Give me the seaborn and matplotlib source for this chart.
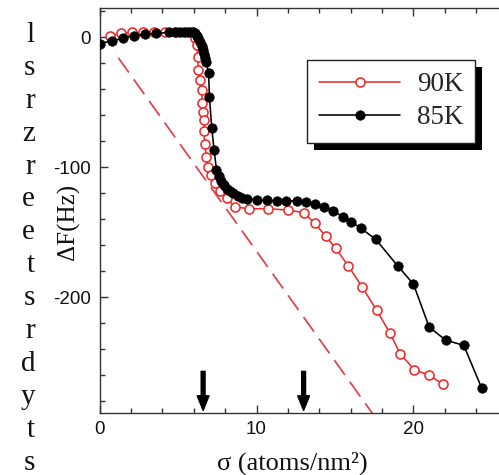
import numpy as np
import pandas as pd
import matplotlib
matplotlib.use("Agg")
import matplotlib.pyplot as plt
import seaborn as sns
from matplotlib.patches import Rectangle
from matplotlib.transforms import IdentityTransform
from matplotlib.ticker import MultipleLocator

# ---------------- data ----------------
x_90K = [0.7, 1.4, 2.1, 2.8, 3.5, 4.2, 4.9, 5.5, 5.9, 6.1, 6.2, 6.25, 6.3, 6.4, 6.5,
         6.55, 6.6, 6.65, 6.65, 6.7, 6.8, 6.9, 7.1, 7.35, 7.7, 8.1, 8.6, 9.5, 10.75,
         12.0, 13.0, 13.7, 14.4, 15.05, 15.85, 16.75, 17.65, 18.5, 19.15, 20.05, 21.0, 21.9]
y_90K = [1, 3, 3.5, 3.5, 4, 4, 4, 4, 3.5, -1, -6, -15, -25, -33, -41,
         -51, -58, -64, -72, -82, -92, -100, -106, -112.5, -118, -124, -130.5, -132, -132,
         -133, -135, -143, -153, -162.5, -176, -192.5, -210, -227.5, -243.5, -255.6, -260, -267]

x_85K = [0.0, 0.8, 1.5, 2.2, 2.9, 3.6, 4.4, 4.8, 5.1, 5.4, 5.7, 5.95, 6.1, 6.2, 6.3,
         6.4, 6.5, 6.6, 6.65, 6.7, 6.8, 6.95, 7.0, 7.15, 7.3, 7.45, 7.6, 7.75, 7.9,
         8.1, 8.3, 8.5, 8.8, 9.1, 9.4, 10.0, 10.65, 11.3, 11.9, 12.55, 13.15, 13.7,
         14.3, 14.9, 15.5, 16.05, 16.65, 17.6, 19.0, 20.0, 21.0, 22.05, 23.2, 24.35]
y_85K = [-5, -3, -1, 1, 2, 2.8, 3.5, 4, 4, 4, 4, 4, 3, 1, -1,
         -4, -7, -10, -13, -16, -19, -28, -46, -70, -87, -102, -107, -111, -114,
         -116.5, -118.5, -120, -122, -123.5, -124.5, -125, -125.5, -126, -126, -126, -126.7, -128.5,
         -131, -133.6, -138.5, -142, -147, -155.6, -176, -190, -223, -233, -237, -270]

dashed_x = [1.2, 17.6]
dashed_y = [-16, -293]

arrow_x = [6.6, 13.0]

series_labels = ["90K", "85K"]
xlabel = "σ (atoms/nm²)"
ylabel = "ΔF(Hz)"
side_letters = ["l", "s", "r", "z", "r", "e", "e", "t", "s", "r", "d", "y", "t", "s"]

# ---------------- style ----------------
sns.set_theme(style="ticks")
plt.rcParams["font.family"] = ["Liberation Sans", "DejaVu Sans"]
plt.rcParams["axes.unicode_minus"] = False
SERIF = ["Liberation Serif", "DejaVu Serif"]

W, H = 499, 475
fig = plt.figure(figsize=(W / 100, H / 100), dpi=100)
ax_left, ax_right_px = 99.5, 99.5 + 26 * 15.7
ax_top, ax_bot = 8, 413
ax_w_px = ax_right_px - ax_left
ax = fig.add_axes([ax_left / W, 1 - ax_bot / H, ax_w_px / W, (ax_bot - ax_top) / H])
ax.set_facecolor("white")

RED = "#ee2a2a"

df90 = pd.DataFrame({"x": x_90K, "y": y_90K})
df85 = pd.DataFrame({"x": x_85K, "y": y_85K})

# dashed reference line
ax.plot(dashed_x, dashed_y, color="#e04550", lw=1.3, dashes=(10, 4.7), zorder=1)

sns.lineplot(data=df90, x="x", y="y", ax=ax, sort=False, estimator=None,
             color=RED, lw=1.15, marker="o", markersize=6.5, markerfacecolor="white",
             markeredgecolor=RED, markeredgewidth=1.15, label=series_labels[0], zorder=2)
sns.lineplot(data=df85, x="x", y="y", ax=ax, sort=False, estimator=None,
             color="black", lw=1.15, marker="o", markersize=6.8, markerfacecolor="black",
             markeredgecolor="black", markeredgewidth=0.5, label=series_labels[1], zorder=3)

for xa in arrow_x:
    ax.annotate("", xy=(xa, -287), xytext=(xa, -257),
                arrowprops=dict(facecolor="black", edgecolor="black", width=2.8,
                                headwidth=8.5, headlength=10.5, shrink=0))

ax.set_xlim(0, 26)
ax.set_ylim(-289, 22.3)
ax.xaxis.set_major_locator(MultipleLocator(10))
ax.xaxis.set_minor_locator(MultipleLocator(2))
ax.yaxis.set_major_locator(MultipleLocator(100))
ax.yaxis.set_minor_locator(MultipleLocator(20))
ax.tick_params(which="both", direction="in", top=True, right=False, color="#333333", width=1)
ax.tick_params(which="major", length=6, labelsize=13.5, pad=6, labelcolor="#111111")
ax.tick_params(which="minor", length=3.5)
for s in ["left", "bottom", "top"]:
    ax.spines[s].set_color("#333333")
    ax.spines[s].set_linewidth(1)
ax.spines["right"].set_visible(False)

ax.set_xlabel(xlabel, family=SERIF, fontsize=19, color="#111111")
ax.xaxis.set_label_coords((292 - ax_left) / ax_w_px, -0.095)
ax.set_ylabel(ylabel, family=SERIF, fontsize=18, color="#111111")
ax.yaxis.set_label_coords(-(ax_left - 80) / ax_w_px, (ax_bot - 222) / (ax_bot - ax_top))

leg = ax.legend(loc="upper left", bbox_to_anchor=(307 / W, 1 - 60 / H), bbox_transform=fig.transFigure,
                borderaxespad=0, frameon=True, fancybox=False, framealpha=1, edgecolor="#222222",
                prop={"family": SERIF, "size": 19.5}, handlelength=3.0, handletextpad=0.6,
                labelspacing=0.3, borderpad=0.45)
leg.get_frame().set_linewidth(1.0)
leg.set_zorder(6)

fig.canvas.draw()
bb = leg.get_frame().get_window_extent(fig.canvas.get_renderer())
shadow = Rectangle((bb.x0 + 7, bb.y0 - 7), bb.width, bb.height, transform=IdentityTransform(),
                   facecolor="black", edgecolor="none", zorder=5.9, clip_on=False)
ax.add_artist(shadow)

for i, ch in enumerate(side_letters):
    ypx = 35 + i * 32.9
    fig.text(35 / W, 1 - ypx / H, ch, ha="right", va="center", family=SERIF, fontsize=21, color="#111111")

fig.savefig("out.png", dpi=100)
